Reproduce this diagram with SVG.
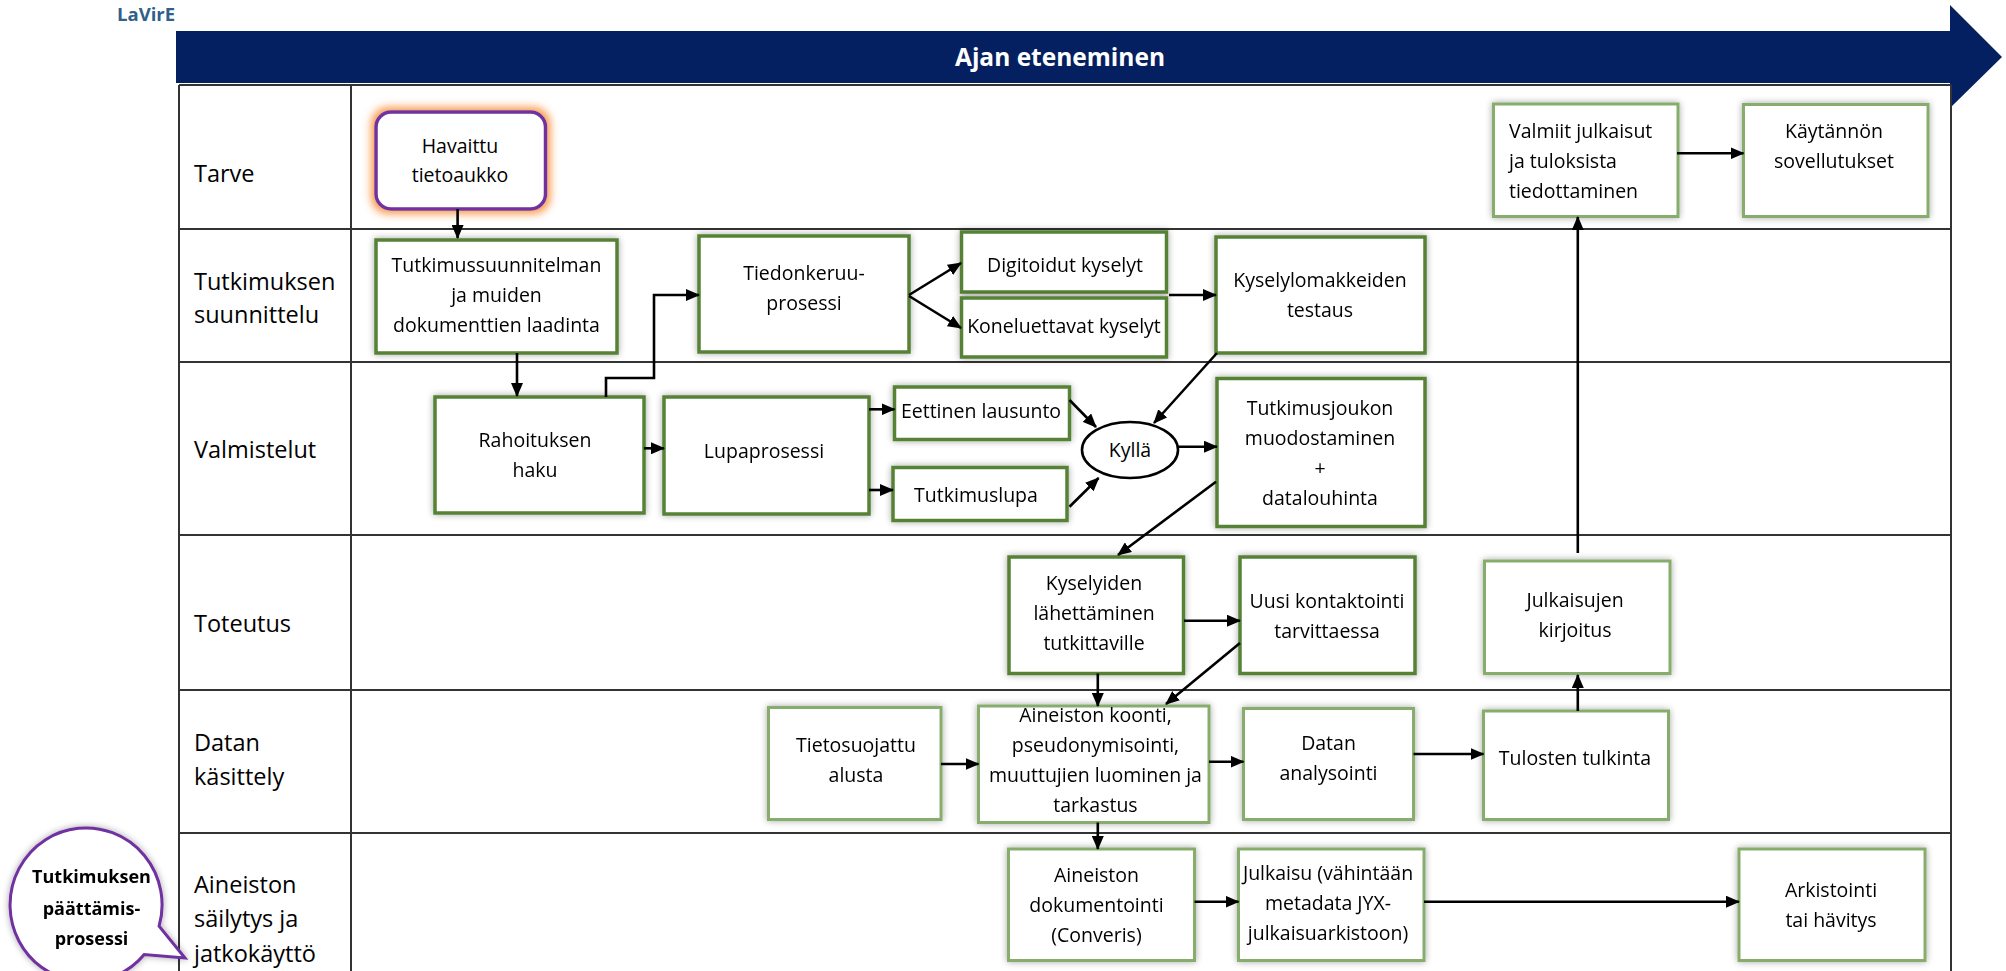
<svg xmlns="http://www.w3.org/2000/svg" width="2006" height="971" viewBox="0 0 2006 971">
<defs>
<style>
.lane{font-family:"Open Sans",sans-serif;font-size:23.5px;fill:#000}
.nt{font-family:"Open Sans",sans-serif;font-size:19.5px;fill:#000;text-anchor:middle}
.ntl{font-family:"Open Sans",sans-serif;font-size:19.5px;fill:#000}
.bx{fill:#fff;stroke:#548235;stroke-width:3.5}
.bx2{fill:#fff;stroke:#86ad6c;stroke-width:3}
.grid{stroke:#333;stroke-width:2;fill:none}
.cn{stroke:#000;stroke-width:2.6;fill:none;marker-end:url(#ah)}
</style>
<marker id="ah" markerUnits="userSpaceOnUse" markerWidth="14" markerHeight="12" refX="13" refY="6" orient="auto"><path d="M0,0 L14,6 L0,12 z" fill="#000"/></marker>
<filter id="sh" x="-20%" y="-20%" width="140%" height="140%"><feGaussianBlur in="SourceAlpha" stdDeviation="3.5"/><feComponentTransfer><feFuncA type="linear" slope="0.35"/></feComponentTransfer><feMerge><feMergeNode/><feMergeNode in="SourceGraphic"/></feMerge></filter>
<filter id="og" x="-30%" y="-30%" width="160%" height="160%"><feMorphology in="SourceAlpha" operator="dilate" radius="3" result="d"/><feGaussianBlur in="d" stdDeviation="4" result="b"/><feFlood flood-color="#f79646" flood-opacity="1"/><feComposite in2="b" operator="in"/><feMerge><feMergeNode/><feMergeNode in="SourceGraphic"/></feMerge></filter>
</defs>
<rect width="2006" height="971" fill="#fff"/>
<text x="117" y="21" font-family="Open Sans, sans-serif" font-weight="bold" font-size="18.5" fill="#2f5f8a">LaVirE</text>
<g id="timeline">
<polygon points="176,31 1950,31 1950,5 2002,57 1950,108 1950,83 176,83" fill="#042060"/>
<text x="1060" y="66" font-family="Open Sans, sans-serif" font-weight="bold" font-size="24.5" fill="#fff" text-anchor="middle">Ajan eteneminen</text>
</g>
<g id="table">
<path class="grid" d="M179,85 V971 M351,85 V971 M1951,85 V971 M179,85 H1951 M179,229 H1951 M179,362 H1951 M179,535 H1951 M179,690 H1951 M179,833 H1951"/>
<text class="lane" x="194" y="182">Tarve</text>
<text class="lane" x="194" y="290">Tutkimuksen<tspan x="194" y="323">suunnittelu</tspan></text>
<text class="lane" x="194" y="458">Valmistelut</text>
<text class="lane" x="194" y="632">Toteutus</text>
<text class="lane" x="194" y="751">Datan<tspan x="194" y="785">käsittely</tspan></text>
<text class="lane" x="194" y="893">Aineiston<tspan x="194" y="927">säilytys ja</tspan><tspan x="194" y="962">jatkokäyttö</tspan></text>
</g>
<g id="nodes">
<g id="havaittu"><rect x="376" y="112" width="169.5" height="97" rx="15" fill="#fff" stroke="#7030a0" stroke-width="3.5" filter="url(#og)"/><text class="nt" x="460" y="153">Havaittu<tspan x="460" y="182">tietoaukko</tspan></text></g>
<g id="tutkimussuunnitelma" filter="url(#sh)"><rect class="bx" x="376" y="240" width="241" height="113"/><text class="nt" x="496.5" y="272">Tutkimussuunnitelman<tspan x="496.5" y="302">ja muiden</tspan><tspan x="496.5" y="332">dokumenttien laadinta</tspan></text></g>
<g id="rahoitus" filter="url(#sh)"><rect class="bx" x="435" y="397" width="209" height="116"/><text class="nt" x="535" y="447">Rahoituksen<tspan x="535" y="477">haku</tspan></text></g>
<g id="tiedonkeruu" filter="url(#sh)"><rect class="bx" x="699" y="236" width="210" height="116"/><text class="nt" x="804" y="280">Tiedonkeruu-<tspan x="804" y="310">prosessi</tspan></text></g>
<g id="digitoidut" filter="url(#sh)"><rect class="bx" x="961.5" y="232" width="205" height="60"/><text class="nt" x="1065" y="272">Digitoidut kyselyt</text></g>
<g id="koneluettavat" filter="url(#sh)"><rect class="bx" x="961.5" y="298" width="205" height="59"/><text class="nt" x="1064" y="333">Koneluettavat kyselyt</text></g>
<g id="kyselylomakkeet" filter="url(#sh)"><rect class="bx" x="1216" y="237" width="209" height="116"/><text class="nt" x="1320" y="287">Kyselylomakkeiden<tspan x="1320" y="317">testaus</tspan></text></g>
<g id="lupaprosessi" filter="url(#sh)"><rect class="bx" x="664" y="397" width="205" height="117"/><text class="nt" x="764" y="458">Lupaprosessi</text></g>
<g id="eettinen" filter="url(#sh)"><rect class="bx" x="894.5" y="387" width="175" height="52.5"/><text class="nt" x="981" y="418">Eettinen lausunto</text></g>
<g id="tutkimuslupa" filter="url(#sh)"><rect class="bx" x="893" y="467.5" width="174" height="53"/><text class="nt" x="976" y="502">Tutkimuslupa</text></g>
<g id="kylla"><ellipse cx="1130" cy="450" rx="48" ry="28" fill="#fff" stroke="#000" stroke-width="2.6"/><text class="nt" x="1130" y="457">Kyllä</text></g>
<g id="tutkimusjoukko" filter="url(#sh)"><rect class="bx" x="1217" y="378.5" width="208" height="148"/><text class="nt" x="1320" y="415">Tutkimusjoukon<tspan x="1320" y="445">muodostaminen</tspan><tspan x="1320" y="475">+</tspan><tspan x="1320" y="505">datalouhinta</tspan></text></g>
<g id="kyselyiden" filter="url(#sh)"><rect class="bx" x="1009" y="557" width="174.5" height="116.5"/><text class="nt" x="1094" y="590">Kyselyiden<tspan x="1094" y="620">lähettäminen</tspan><tspan x="1094" y="650">tutkittaville</tspan></text></g>
<g id="uusikontaktointi" filter="url(#sh)"><rect class="bx" x="1240" y="557" width="175" height="116.5"/><text class="nt" x="1327" y="608">Uusi kontaktointi<tspan x="1327" y="638">tarvittaessa</tspan></text></g>
<g id="julkaisujen" filter="url(#sh)"><rect class="bx2" x="1484.5" y="561" width="185.5" height="112.5"/><text class="nt" x="1575" y="607">Julkaisujen<tspan x="1575" y="637">kirjoitus</tspan></text></g>
<g id="valmiit" filter="url(#sh)"><rect class="bx2" x="1493.5" y="104" width="184.5" height="112.5"/><text class="ntl" x="1509" y="138">Valmiit julkaisut<tspan x="1509" y="168">ja tuloksista</tspan><tspan x="1509" y="198">tiedottaminen</tspan></text></g>
<g id="kaytannon" filter="url(#sh)"><rect class="bx2" x="1743.5" y="104.5" width="184.5" height="112"/><text class="nt" x="1834" y="138">Käytännön<tspan x="1834" y="168">sovellutukset</tspan></text></g>
<g id="tietosuojattu" filter="url(#sh)"><rect class="bx2" x="768.5" y="707.5" width="172.5" height="112"/><text class="nt" x="856" y="752">Tietosuojattu<tspan x="856" y="782">alusta</tspan></text></g>
<g id="koonti" filter="url(#sh)"><rect class="bx2" x="978.5" y="706" width="230.5" height="116.5"/><text class="nt" x="1095.5" y="722">Aineiston koonti,<tspan x="1095.5" y="752">pseudonymisointi,</tspan><tspan x="1095.5" y="782">muuttujien luominen ja</tspan><tspan x="1095.5" y="812">tarkastus</tspan></text></g>
<g id="analysointi" filter="url(#sh)"><rect class="bx2" x="1243.5" y="708.5" width="170" height="111"/><text class="nt" x="1328.5" y="750">Datan<tspan x="1328.5" y="780">analysointi</tspan></text></g>
<g id="tulosten" filter="url(#sh)"><rect class="bx2" x="1483.5" y="711" width="185" height="108.5"/><text class="nt" x="1575" y="765">Tulosten tulkinta</text></g>
<g id="dokumentointi" filter="url(#sh)"><rect class="bx2" x="1008.5" y="849" width="186" height="111.5"/><text class="nt" x="1096.5" y="882">Aineiston<tspan x="1096.5" y="912">dokumentointi</tspan><tspan x="1096.5" y="942">(Converis)</tspan></text></g>
<g id="julkaisu" filter="url(#sh)"><rect class="bx2" x="1238.5" y="849" width="185.5" height="111.5"/><text class="nt" x="1328" y="880">Julkaisu (vähintään<tspan x="1328" y="910">metadata JYX-</tspan><tspan x="1328" y="940">julkaisuarkistoon)</tspan></text></g>
<g id="arkistointi" filter="url(#sh)"><rect class="bx2" x="1739" y="849" width="186" height="111.5"/><text class="nt" x="1831" y="897">Arkistointi<tspan x="1831" y="927">tai hävitys</tspan></text></g>
<g id="callout" filter="url(#sh)"><path d="M159.1,926.2 A76,77 0 1 0 144.2,954.5 L185,958 Z" fill="#fff" stroke="#7030a0" stroke-width="3"/><text x="91.5" y="883" font-family="Open Sans, sans-serif" font-weight="bold" font-size="18" text-anchor="middle">Tutkimuksen<tspan x="91.5" y="915">päättämis-</tspan><tspan x="91.5" y="945">prosessi</tspan></text></g>
</g>
<g id="connectors">
<path class="cn" d="M457.6,209 V238"/>
<path class="cn" d="M517,353 V396"/>
<path class="cn" d="M606,397 V378 H654 V295 H699"/>
<path class="cn" d="M909,295 L961,263"/>
<path class="cn" d="M909,296 L961,328"/>
<path class="cn" d="M1169,295 H1216"/>
<path class="cn" d="M1217,353 L1154,423"/>
<path class="cn" d="M644,448.3 H664"/>
<path class="cn" d="M869,409.3 H894.5"/>
<path class="cn" d="M869,490 H893"/>
<path class="cn" d="M1069.5,400 L1096,427"/>
<path class="cn" d="M1069.5,506.7 L1098.6,478"/>
<path class="cn" d="M1178,446.7 H1217"/>
<path class="cn" d="M1216,481.7 L1118,555"/>
<path class="cn" d="M1184,620.7 H1240"/>
<path class="cn" d="M1240,643 L1166,704"/>
<path class="cn" d="M1097.8,673.5 V706"/>
<path class="cn" d="M1577.8,711 V675"/>
<path class="cn" d="M1577.8,553 V217"/>
<path class="cn" d="M1677,153.3 H1743.5"/>
<path class="cn" d="M941,764 H978.5"/>
<path class="cn" d="M1209,761.7 H1243.5"/>
<path class="cn" d="M1413.5,754 H1483.5"/>
<path class="cn" d="M1097.8,822.5 V849"/>
<path class="cn" d="M1194.5,901.7 H1238.5"/>
<path class="cn" d="M1424,901.7 H1739"/>
</g>
</svg>
